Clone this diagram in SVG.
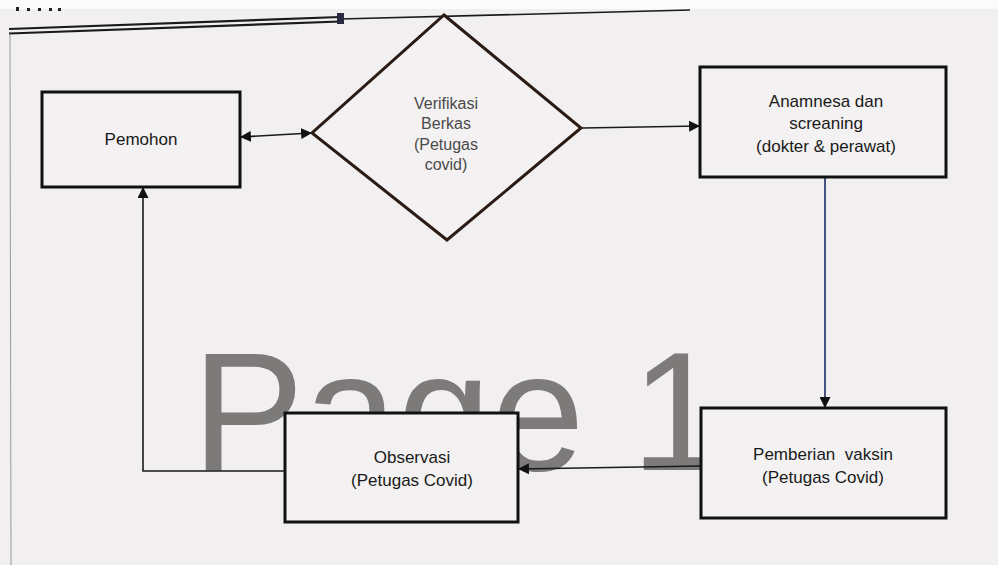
<svg xmlns="http://www.w3.org/2000/svg" width="998" height="565" viewBox="0 0 998 565">
  <defs>
    <style>
      .box { fill: #f3f1f1; stroke: #111; stroke-width: 3; }
      .dia { fill: #f3f1f1; stroke: #2a1c14; stroke-width: 3; }
      .lbl { font-family: "Liberation Sans", Arial, sans-serif; font-size: 17px; fill: #1a1a1a; text-anchor: middle; }
      .dlbl { font-family: "Liberation Sans", Arial, sans-serif; font-size: 16px; fill: #4a4a4a; text-anchor: middle; }
      .con { fill: none; stroke: #1a1a1a; stroke-width: 1.6; }
      .conb { fill: none; stroke: #1c2a66; stroke-width: 1.6; }
      .wm { font-family: "Liberation Sans", Arial, sans-serif; font-size: 168px; fill: #7d7a7a; }
    </style>
    <marker id="ah" viewBox="0 0 10 10" refX="9" refY="5" markerWidth="11" markerHeight="11" markerUnits="userSpaceOnUse" orient="auto-start-reverse">
      <path d="M0,0 L10,5 L0,10 z" fill="#111"/>
    </marker>
  </defs>

  <rect x="0" y="0" width="998" height="565" fill="#f1eff0"/>
  <rect x="0" y="0" width="998" height="9" fill="#fbfbfb"/>

  <!-- page chrome -->
  <g id="page-chrome">
    <rect x="16" y="7" width="3" height="4" fill="#222"/>
    <rect x="27" y="8" width="3" height="3" fill="#222"/>
    <rect x="38" y="8" width="3" height="3" fill="#222"/>
    <rect x="49" y="8" width="3" height="3" fill="#222"/>
    <rect x="58" y="8" width="3" height="3" fill="#222"/>
    <line x1="9" y1="29" x2="340" y2="17" stroke="#1a1a1a" stroke-width="2.2"/>
    <line x1="9" y1="33.5" x2="340" y2="21.5" stroke="#1a1a1a" stroke-width="2.2"/>
    <line x1="340" y1="19" x2="690" y2="10" stroke="#1a1a1a" stroke-width="1.6"/>
    <rect x="337" y="13" width="7" height="11" fill="#2a2a40"/>
    <line x1="10" y1="32" x2="11" y2="565" stroke="#555" stroke-width="1" opacity="0.55"/>
  </g>

  <!-- watermark -->
  <text class="wm" x="192" y="470">Page 1</text>

  <!-- connectors -->
  <g id="connectors">
    <line class="con" x1="241" y1="137" x2="311" y2="133" marker-start="url(#ah)" marker-end="url(#ah)"/>
    <line class="con" x1="582" y1="128" x2="699" y2="126" marker-end="url(#ah)"/>
    <line class="conb" x1="825" y1="178" x2="825" y2="407" marker-end="url(#ah)"/>
    <line class="con" x1="700" y1="466" x2="519" y2="469" marker-end="url(#ah)"/>
    <polyline class="con" points="284,471 143,471 143,188" marker-end="url(#ah)"/>
  </g>

  <!-- nodes -->
  <g id="node-pemohon">
    <rect class="box" x="42" y="92" width="198" height="95"/>
    <text class="lbl" x="141" y="145">Pemohon</text>
  </g>

  <g id="node-verifikasi">
    <polygon class="dia" points="444,15 581,128 447,240 312,133"/>
    <text class="dlbl" x="446" y="109">Verifikasi</text>
    <text class="dlbl" x="446" y="129">Berkas</text>
    <text class="dlbl" x="446" y="150">(Petugas</text>
    <text class="dlbl" x="446" y="170">covid)</text>
  </g>

  <g id="node-anamnesa">
    <rect class="box" x="700" y="67" width="246" height="110"/>
    <text class="lbl" x="826" y="107" font-size="18">Anamnesa dan</text>
    <text class="lbl" x="826" y="129" font-size="18">screaning</text>
    <text class="lbl" x="826" y="152" font-size="18">(dokter &amp; perawat)</text>
  </g>

  <g id="node-pemberian">
    <rect class="box" x="701" y="408" width="245" height="110"/>
    <text class="lbl" x="823" y="460" font-size="18" xml:space="preserve">Pemberian  vaksin</text>
    <text class="lbl" x="823" y="483" font-size="18">(Petugas Covid)</text>
  </g>

  <g id="node-observasi">
    <rect class="box" x="285" y="413" width="233" height="109"/>
    <text class="lbl" x="412" y="463">Observasi</text>
    <text class="lbl" x="412" y="486">(Petugas Covid)</text>
  </g>
</svg>
